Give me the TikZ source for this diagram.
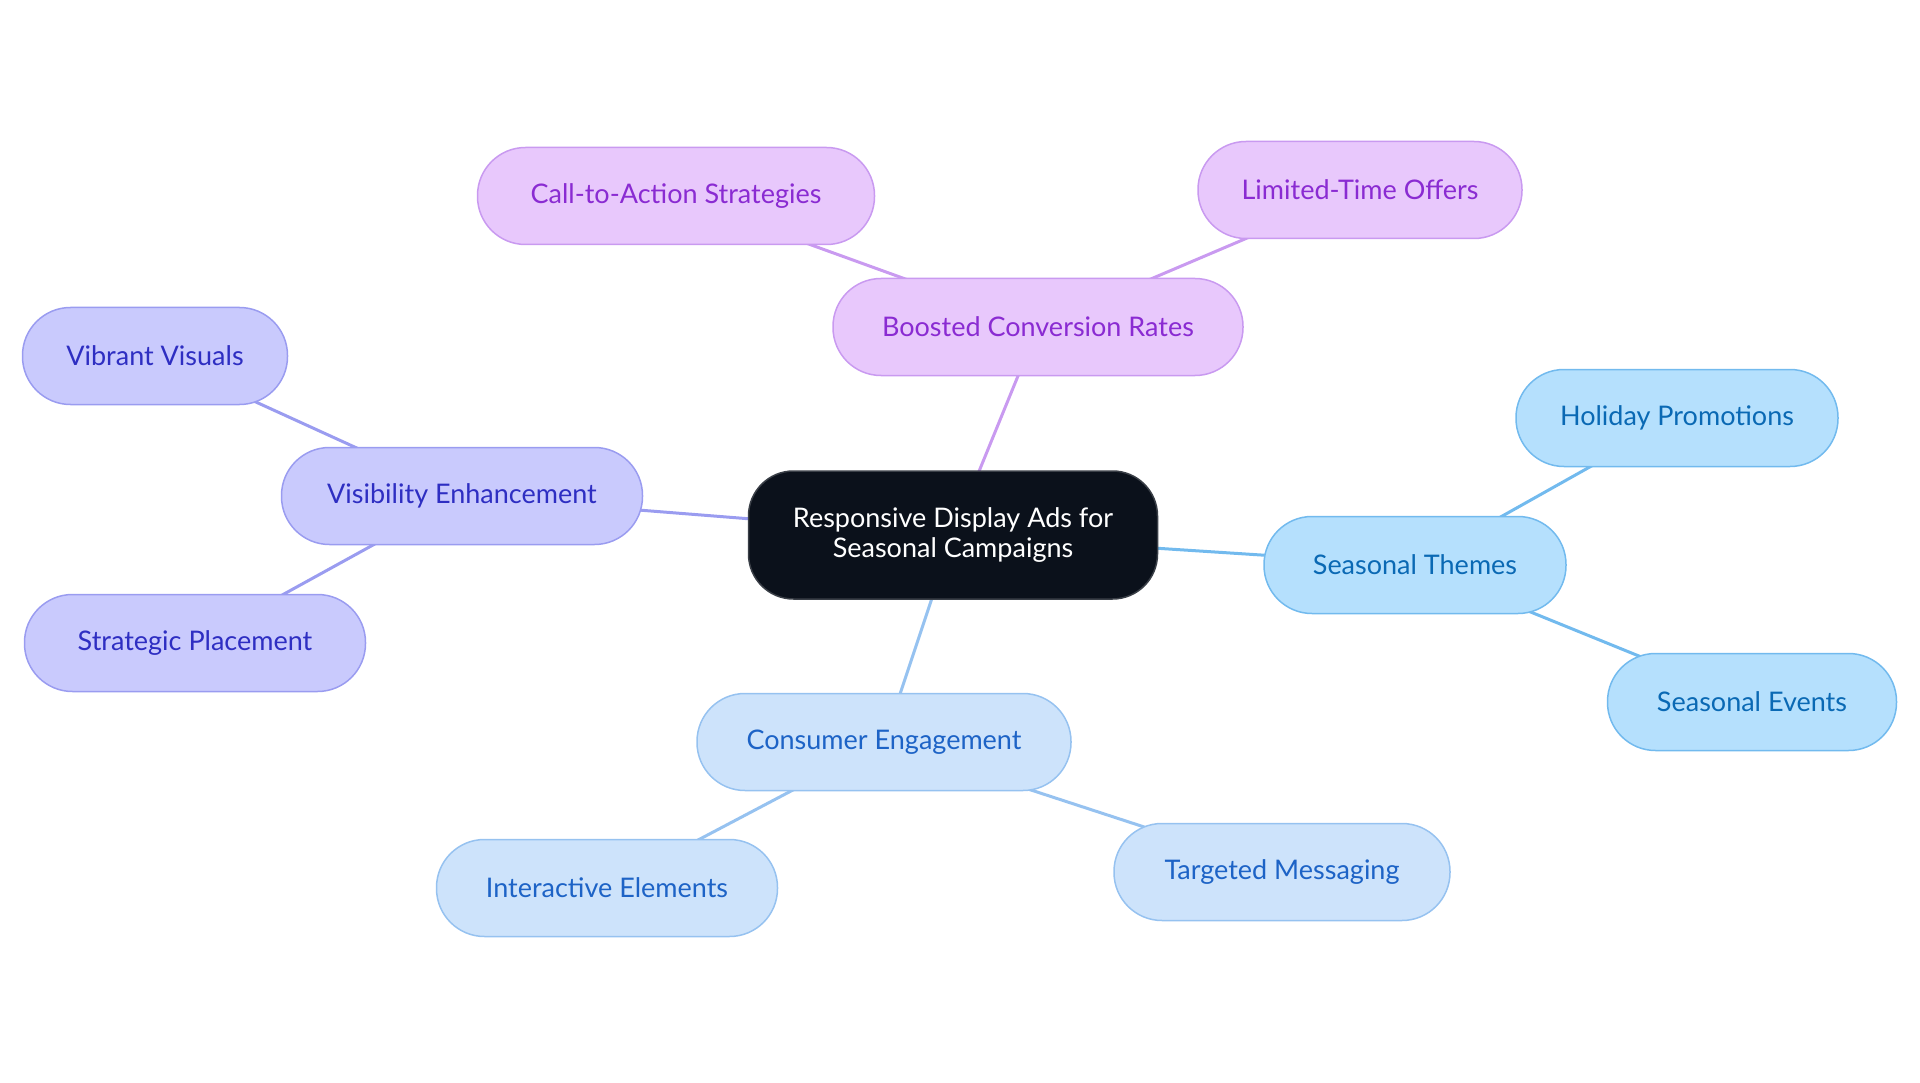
\documentclass[tikz,border=0pt]{standalone}
\usepackage{fontspec}
\setmainfont{Lato}
\usepackage{tikz}
\usepackage{xcolor}
\usetikzlibrary{positioning}
\definecolor{RootFill}{HTML}{0B111B}
\definecolor{RootDraw}{HTML}{3A3F47}
\definecolor{PurpFill}{HTML}{E8C8FC}
\definecolor{PurpDraw}{HTML}{C99AF0}
\definecolor{PurpText}{HTML}{8A2BD2}
\definecolor{IndFill}{HTML}{C9CAFD}
\definecolor{IndDraw}{HTML}{9A9CF0}
\definecolor{IndText}{HTML}{2E2EC2}
\definecolor{SkyFill}{HTML}{B5E0FD}
\definecolor{SkyDraw}{HTML}{72BAEE}
\definecolor{SkyText}{HTML}{0A69B4}
\definecolor{PaleFill}{HTML}{CDE3FB}
\definecolor{PaleDraw}{HTML}{96C2F0}
\definecolor{PaleText}{HTML}{1D63C6}
\pgfdeclarelayer{background}
\pgfsetlayers{background,main}
\tikzset{
    pill/.style={rounded corners=48pt, minimum height=97pt, inner xsep=10pt,
        line width=1.5pt, font=\fontsize{27}{32}\selectfont},
    purpbox/.style={pill, fill=PurpFill, draw=PurpDraw, text=PurpText},
    indbox/.style={pill, fill=IndFill, draw=IndDraw, text=IndText},
    skybox/.style={pill, fill=SkyFill, draw=SkyDraw, text=SkyText},
    palebox/.style={pill, fill=PaleFill, draw=PaleDraw, text=PaleText},
    link/.style={line width=3pt}
}

\begin{document}
\begin{tikzpicture}[x=1pt, y=-1pt]
    \useasboundingbox (0,0) rectangle (1920,1083);

    % Root
    \node[rounded corners=45pt, fill=RootFill, draw=RootDraw, line width=1.5pt,
          text=white, align=center, minimum width=409pt, minimum height=128pt,
          font=\fontsize{27}{30}\selectfont] (root) at (953,535)
          {Responsive Display Ads for\\Seasonal Campaigns};

    % Main branches
    \node[purpbox, minimum width=410pt] (boost) at (1038,327) {Boosted Conversion Rates};
    \node[indbox, minimum width=361pt]  (vis)   at (462,496)  {Visibility Enhancement};
    \node[skybox, minimum width=302pt]  (theme) at (1415,565) {Seasonal Themes};
    \node[palebox, minimum width=374pt] (cons)  at (884,742)  {Consumer Engagement};

    % Leaves
    \node[purpbox, minimum width=397pt] (cta)   at (676,196)  {Call-to-Action Strategies};
    \node[purpbox, minimum width=324pt] (offer) at (1360,190) {Limited-Time Offers};
    \node[indbox, minimum width=265pt]  (vivid) at (155,356)  {Vibrant Visuals};
    \node[indbox, minimum width=341pt]  (place) at (195,643)  {Strategic Placement};
    \node[skybox, minimum width=322pt]  (holi)  at (1677,418) {Holiday Promotions};
    \node[skybox, minimum width=289pt]  (event) at (1752,702) {Seasonal Events};
    \node[palebox, minimum width=341pt] (inter) at (607,888)  {Interactive Elements};
    \node[palebox, minimum width=336pt] (target) at (1282,872) {Targeted Messaging};

    % Connectors, centre to centre behind the boxes
    \begin{pgfonlayer}{background}
    \foreach \a/\b/\c in {root/boost/PurpDraw, boost/cta/PurpDraw, boost/offer/PurpDraw,
        root/vis/IndDraw, vis/vivid/IndDraw, vis/place/IndDraw,
        root/theme/SkyDraw, theme/holi/SkyDraw, theme/event/SkyDraw,
        root/cons/PaleDraw, cons/inter/PaleDraw, cons/target/PaleDraw}
        \draw[link, \c] (\a.center) -- (\b.center);
    \end{pgfonlayer}
\end{tikzpicture}
\end{document}
